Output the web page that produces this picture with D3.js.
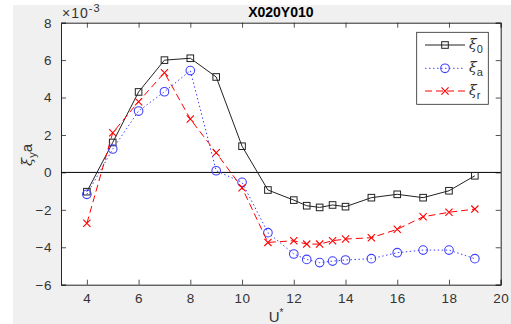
<!DOCTYPE html>
<html><head><meta charset="utf-8">
<script src="https://cdn.jsdelivr.net/npm/d3@7"></script>
<style>body{margin:0;background:#fff}svg{display:block}</style>
</head><body>
<svg id="c" width="511" height="324"></svg>
<script>
const uValues = [4,5,6,7,8,9,10,11,12,12.5,13,13.5,14,15,16,17,18,19];
const xi0 = [-1.03,1.6,4.3,6.0,6.1,5.1,1.4,-0.94,-1.48,-1.78,-1.87,-1.74,-1.83,-1.35,-1.17,-1.35,-0.98,-0.18];
const xiA = [-1.17,1.25,3.28,4.31,5.44,0.09,-0.53,-3.22,-4.36,-4.65,-4.82,-4.74,-4.68,-4.61,-4.29,-4.15,-4.15,-4.61];
const xiR = [-2.72,2.12,3.78,5.33,2.85,1.05,-0.82,-3.74,-3.65,-3.83,-3.83,-3.65,-3.56,-3.49,-3.04,-2.37,-2.13,-1.96];
const xTicks = [4,6,8,10,12,14,16,18,20];
const yTicks = [-6,-4,-2,0,2,4,6,8];
const xDomain = [3,20];
const yDomain = [-6,8];

const svg = d3.select("#c");
const font = "Helvetica, Arial, 'Liberation Sans', sans-serif";
svg.append("rect").attr("x",13).attr("y",5).attr("width",498).attr("height",319).attr("fill","#f0f0f0");

const L=61,R=500.7,T=22.7,B=284.7;
const x = d3.scaleLinear().domain(xDomain).range([L,R]);
const y = d3.scaleLinear().domain(yDomain).range([B,T]);

svg.append("rect").attr("x",L).attr("y",T).attr("width",R-L).attr("height",B-T).attr("fill","#fff");

const axCol="#262626";
const gx = svg.append("g").attr("transform",`translate(0,${B})`)
  .call(d3.axisBottom(x).tickValues(xTicks).tickSize(-5).tickPadding(9));
const gxt = svg.append("g").attr("transform",`translate(0,${T})`)
  .call(d3.axisTop(x).tickValues(xTicks).tickSize(-5).tickFormat(""));
const gy = svg.append("g").attr("transform",`translate(${L},0)`)
  .call(d3.axisLeft(y).tickValues(yTicks).tickSize(-5).tickPadding(9));
const gyr = svg.append("g").attr("transform",`translate(${R},0)`)
  .call(d3.axisRight(y).tickValues(yTicks).tickSize(-5).tickFormat(""));
[gx,gxt,gy,gyr].forEach(g=>{
  g.selectAll("path").attr("stroke",axCol).attr("stroke-width",1);
  g.selectAll("line").attr("stroke",axCol).attr("stroke-width",0.8);
  g.selectAll("text").attr("fill","#333").style("font-family",font).style("font-size","13.5px").style("letter-spacing","0.5px");
});

// zero line
svg.append("line").attr("x1",L).attr("x2",R).attr("y1",y(0)).attr("y2",y(0)).attr("stroke","#000").attr("stroke-width",1);

const series = [
  {vals:xi0, color:"#222", dash:null, marker:"square", sub:"0"},
  {vals:xiA, color:"#4040ff", dash:"1.5,2.5", marker:"circle", sub:"a"},
  {vals:xiR, color:"#ff0000", dash:"7,4", marker:"x", sub:"r"}
];
const line = d3.line().x(d=>x(d[0])).y(d=>y(d[1]));

function drawMarker(g,type,cx,cy,color){
  if(type==="square") g.append("rect").attr("x",cx-3.3).attr("y",cy-3.3).attr("width",6.6).attr("height",6.6).attr("fill","none").attr("stroke",color).attr("stroke-width",1);
  else if(type==="circle") g.append("circle").attr("cx",cx).attr("cy",cy).attr("r",4.3).attr("fill","none").attr("stroke",color).attr("stroke-width",1.1);
  else { const s=3.6; g.append("path").attr("d",`M${cx-s},${cy-s}L${cx+s},${cy+s}M${cx-s},${cy+s}L${cx+s},${cy-s}`).attr("stroke",color).attr("stroke-width",1.1); }
}
series.forEach(s=>{
  const pts = uValues.map((u,i)=>[u,s.vals[i]]);
  svg.append("path").attr("d",line(pts)).attr("fill","none").attr("stroke",s.color).attr("stroke-width",1).attr("stroke-dasharray",s.dash);
  const g=svg.append("g");
  pts.forEach(p=>drawMarker(g,s.marker,x(p[0]),y(p[1]),s.color));
});

// legend
const lg = svg.append("g");
lg.append("rect").attr("x",416.7).attr("y",32.3).attr("width",71.6).attr("height",72).attr("fill","#fff").attr("stroke",axCol).attr("stroke-width",0.8);
const ly=[45,68.3,91];
series.forEach((s,i)=>{
  lg.append("line").attr("x1",425).attr("x2",465).attr("y1",ly[i]).attr("y2",ly[i]).attr("stroke",s.color).attr("stroke-dasharray",s.dash).attr("stroke-width",1);
  drawMarker(lg,s.marker,445,ly[i],s.color);
  const t=lg.append("text").attr("x",469).attr("y",ly[i]+4).style("font-family","'DejaVu Serif', serif").style("font-size","14px").attr("fill","#333").attr("font-style","italic");
  t.append("tspan").text("ξ");
  t.append("tspan").attr("dy",4).style("font-size","11px").style("font-style","normal").style("font-family",font).text(s.sub);
});

// title
svg.append("text").attr("x",(L+R)/2).attr("y",17).attr("text-anchor","middle").style("font-family",font).style("font-weight","bold").style("font-size","14px").attr("fill","#000").text("X020Y010");
// exponent
const ex = svg.append("text").attr("x",62).attr("y",18).style("font-family",font).style("font-size","14px").style("letter-spacing","1px").attr("fill","#333");
ex.append("tspan").text("×10");
ex.append("tspan").attr("dy",-6).style("font-size","11px").text("-3");
// x label
const xl = svg.append("text").attr("x",276).attr("y",322).attr("text-anchor","middle").style("font-family",font).style("font-size","15px").attr("fill","#333");
xl.append("tspan").text("U");
xl.append("tspan").attr("dy",-6).style("font-size","10px").text("*");
// y label
const yl = svg.append("text").attr("transform",`translate(32,155) rotate(-90)`).attr("text-anchor","middle").style("font-family",font).style("font-size","15px").attr("fill","#333");
yl.append("tspan").style("font-family","'DejaVu Serif', serif").style("font-style","italic").text("ξ");
yl.append("tspan").attr("dy",4).style("font-size","11px").text("y");
yl.append("tspan").attr("dy",-4).text("a");
</script>
</body></html>
